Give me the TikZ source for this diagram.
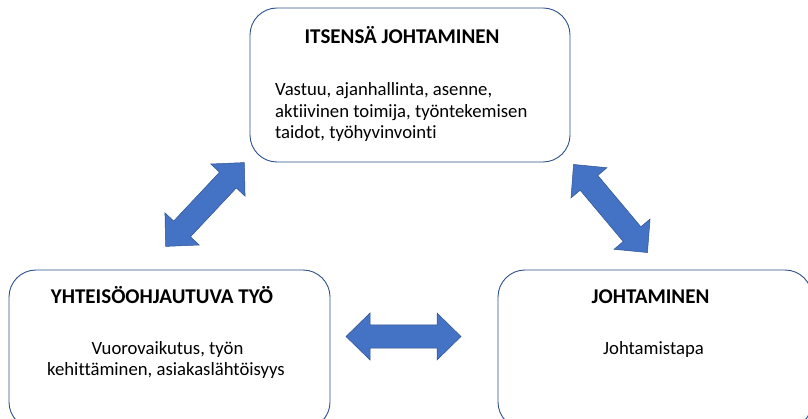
\documentclass[tikz,border=0pt]{standalone}
\usepackage{fontspec}
\setmainfont{Carlito}[Ligatures={NoCommon,NoRare,NoContextual}]
\definecolor{boxline}{HTML}{2F528F}
\definecolor{arrowfill}{HTML}{4472C4}
\definecolor{arrowline}{HTML}{2F528F}
\begin{document}
\begin{tikzpicture}[x=1pt,y=-1pt,
  box/.style={draw=boxline,line width=0.9pt,rounded corners=27pt,fill=white,inner sep=0pt},
  titletext/.style={anchor=base,inner sep=0pt,font=\fontsize{21}{25}\selectfont\bfseries},
  bodytext/.style={anchor=base,inner sep=0pt,font=\fontsize{18.7}{22.5}\selectfont},
  blockarrow/.style={fill=arrowfill,draw=arrowline,line width=0.5pt,line join=miter}]
\useasboundingbox (0,0) rectangle (808,419);
\clip (0,0) rectangle (808,419);
% boxes
\node[box,minimum width=320pt,minimum height=154pt] (top) at (410,85) {};
\node[box,minimum width=321pt,minimum height=159pt] (left) at (169.5,349.5) {};
\node[box,minimum width=314pt,minimum height=159pt] (right) at (655,349.5) {};
% top box texts
\node[titletext] (toptitle) at (402,44) {ITSENSÄ JOHTAMINEN};
\node[bodytext,anchor=base west] (topl1) at (275,96) {Vastuu, ajanhallinta, asenne,};
\node[bodytext,anchor=base west] (topl2) at (275,117.5) {aktiivinen toimija, työntekemisen};
\node[bodytext,anchor=base west] (topl3) at (275,139) {taidot, työhyvinvointi};
% left box texts
\node[titletext] (lefttitle) at (162,304) {YHTEISÖOHJAUTUVA TYÖ};
\node[bodytext] (leftl1) at (167.5,354) {Vuorovaikutus, työn};
\node[bodytext] (leftl2) at (166,375.5) {kehittäminen, asiakaslähtöisyys};
% right box texts
\node[titletext] (righttitle) at (650.5,304) {JOHTAMINEN};
\node[bodytext] (rightl1) at (653.5,354) {Johtamistapa};
% block arrows
\def\blockarrowpath{(-57.5,0) -- (-33.5,-23.5) -- (-33.5,-11.5) -- (33.5,-11.5) -- (33.5,-23.5) -- (57.5,0) -- (33.5,23.5) -- (33.5,11.5) -- (-33.5,11.5) -- (-33.5,23.5) -- cycle}
\begin{scope}[shift={(205,204.5)},rotate=46.8]
  \draw[blockarrow] \blockarrowpath;
\end{scope}
\begin{scope}[shift={(610.5,208.5)},rotate=-50]
  \draw[blockarrow] \blockarrowpath;
\end{scope}
\begin{scope}[shift={(403.5,336.5)}]
  \draw[blockarrow] \blockarrowpath;
\end{scope}
\end{tikzpicture}
\end{document}
